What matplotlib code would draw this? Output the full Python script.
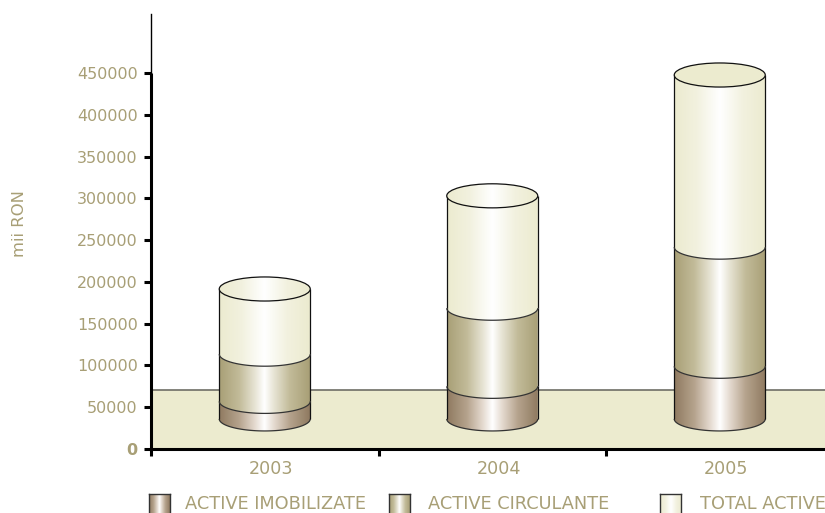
#!/usr/bin/env python
"""Stacked cylinder chart, active in mii RON"""
import numpy as np
import matplotlib
matplotlib.use('Agg')
import matplotlib.pyplot as plt
from matplotlib.colors import LinearSegmentedColormap
from matplotlib.patches import Polygon, Ellipse

years = ['2003', '2004', '2005']
series_names = ['ACTIVE IMOBILIZATE', 'ACTIVE CIRCULANTE', 'TOTAL ACTIVE']
active_imobilizate = [21000, 39000, 63000]
active_circulante = [56500, 93500, 142600]
total_active = [78000, 134500, 206000]
y_ticks = [0, 50000, 100000, 150000, 200000, 250000, 300000, 350000, 400000, 450000]

TXT = '#A89F76'
W, H = 825, 513
floor_top = 70600   # back edge of the beige floor
base = 36000        # cylinders stand this far up the floor
rx = 0.2            # half width, category units
ry = 14400          # half height of the ellipses, data units

cmaps = [
    LinearSegmentedColormap.from_list('imo', [(0, '#8F7A60'), (0.22, '#B5A38D'), (0.4, '#E6DCD2'),
                                              (0.5, '#FFFFFF'), (0.6, '#E6DCD2'), (0.78, '#B5A38D'),
                                              (1, '#8F7A60')]),
    LinearSegmentedColormap.from_list('cir', [(0, '#A89F76'), (0.22, '#C2BB99'), (0.4, '#E8E5D6'),
                                              (0.5, '#FFFFFF'), (0.6, '#E8E5D6'), (0.78, '#C2BB99'),
                                              (1, '#A89F76')]),
    LinearSegmentedColormap.from_list('tot', [(0, '#ECEBCF'), (0.25, '#F2F1DF'), (0.42, '#FBFBF5'),
                                              (0.5, '#FFFFFF'), (0.58, '#FBFBF5'), (0.75, '#F2F1DF'),
                                              (1, '#ECEBCF')]),
]
ramp = np.linspace(0, 1, 256).reshape(1, -1)


def arc(xc, yc):
    t = np.linspace(np.pi, 2 * np.pi, 80)
    return xc + rx * np.cos(t), yc + ry * np.sin(t)


fig = plt.figure(figsize=(W / 100, H / 100), dpi=100)
ax = fig.add_axes([151 / W, 1 - 449 / H, 674 / W, 435 / H])

# floor
ax.axhspan(0, floor_top, color='#ECEBCF', lw=0, zorder=1)
ax.axhline(floor_top, color='#6E6E66', lw=1.2, zorder=1.5)

for i, year in enumerate(years):
    xc = i + 0.5
    bottom = base
    for s, vals in enumerate([active_imobilizate, active_circulante, total_active]):
        top = bottom + vals[i]
        xa, ya = arc(xc, bottom)
        xb, yb = arc(xc, top)
        pts = np.vstack([np.column_stack([xa, ya]), np.column_stack([xb[::-1], yb[::-1]])])
        poly = Polygon(pts, closed=True, fc='none', ec='none', zorder=3)
        ax.add_patch(poly)
        im = ax.imshow(ramp, cmap=cmaps[s], extent=(xc - rx, xc + rx, bottom - ry, top + ry),
                       aspect='auto', zorder=3, interpolation='bilinear')
        im.set_clip_path(poly)
        ax.plot(xa, ya, color='#333333', lw=0.9, zorder=4, solid_capstyle='butt')
        ax.plot([xc - rx, xc - rx], [bottom, top], color='#111111', lw=0.9, zorder=4, solid_capstyle='butt')
        ax.plot([xc + rx, xc + rx], [bottom, top], color='#111111', lw=0.9, zorder=4, solid_capstyle='butt')
        bottom = top
    # lid, only the 2005 one is flat beige
    lid = Ellipse((xc, bottom), 2 * rx, 2 * ry, fc='#ECEBCF' if i == 2 else 'none', ec='#111111', lw=0.9, zorder=6)
    ax.add_patch(lid)
    if i != 2:
        im = ax.imshow(ramp, cmap=cmaps[2], extent=(xc - rx, xc + rx, bottom - ry, bottom + ry),
                       aspect='auto', zorder=5, interpolation='bilinear')
        im.set_clip_path(lid)

ax.set_xlim(0, 674 / 227.5)
ax.set_ylim(0, 435 / 376 * 450000)

# axes
for side in ['top', 'right']:
    ax.spines[side].set_visible(False)
ax.spines['left'].set_linewidth(1.0)
ax.spines['left'].set_color('black')
ax.spines['bottom'].set_linewidth(2.2)
ax.spines['bottom'].set_color('black')
ax.spines['left'].set_zorder(7)
ax.plot([0, 0], [0, 450000], color='black', lw=2.2, zorder=7, clip_on=False, solid_capstyle='butt')

ax.set_yticks(y_ticks)
ax.set_yticklabels([str(v) for v in y_ticks], color=TXT, fontsize=11.5)
ax.get_yticklabels()[0].set_fontweight('bold')
ax.tick_params(axis='y', length=5, width=2.2, color='black', pad=4.5)
ax.set_xticks([0, 1, 2])
ax.set_xticklabels([])
ax.tick_params(axis='x', length=5, width=2.2, color='black')
for i, year in enumerate(years):
    ax.annotate(year, (i + 0.5, 0), xytext=(4.7, -14.5), textcoords='offset points',
                ha='center', va='center', color=TXT, fontsize=12.6, annotation_clip=False)

fig.text(19 / W, 1 - 224 / H, 'mii RON', rotation=90, color=TXT, fontsize=11.8, ha='center', va='center')

# legend, runs off the bottom edge like the original
swatch_x = [149, 389, 660]
text_x = [185, 428, 700]
for s, name in enumerate(series_names):
    lax = fig.add_axes([swatch_x[s] / W, 1 - 516 / H, 21 / W, 22 / H])
    lax.imshow(ramp, cmap=cmaps[s], aspect='auto', interpolation='bilinear')
    lax.set_xticks([])
    lax.set_yticks([])
    for sp in lax.spines.values():
        sp.set_color('#333333')
        sp.set_linewidth(1.0)
    fig.text(text_x[s] / W, 1 - 504 / H, name, color=TXT, fontsize=12.75, ha='left', va='center')

fig.savefig('out.png', dpi=100)
